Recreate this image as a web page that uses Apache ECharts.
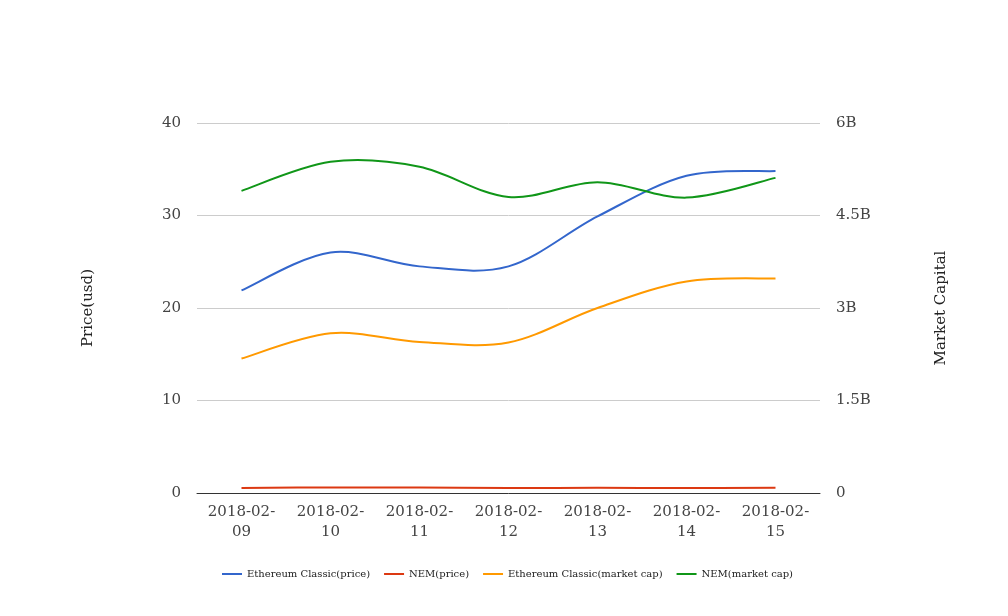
<!DOCTYPE html>
<html>
<head>
<meta charset="utf-8">
<script src="https://cdn.jsdelivr.net/npm/echarts@6/dist/echarts.min.js"></script>
<style>html,body{margin:0;padding:0;background:#fff;}#c{width:1008px;height:616px;}</style>
</head>
<body>
<div id="c"></div>
<script>
var categories = ['2018-02-09','2018-02-10','2018-02-11','2018-02-12','2018-02-13','2018-02-14','2018-02-15'];
var etcPrice = [21.9, 26.0, 24.5, 24.5, 29.9, 34.3, 34.8];
var nemPrice = [0.545, 0.597, 0.588, 0.533, 0.560, 0.533, 0.568];
var etcCap = [2.18e9, 2.59e9, 2.45e9, 2.44e9, 3.0e9, 3.43e9, 3.48e9];
var nemCap = [4.90e9, 5.37e9, 5.29e9, 4.80e9, 5.04e9, 4.79e9, 5.11e9];
var leftTicks = {min: 0, max: 40, interval: 10};
var rightTicks = {min: 0, max: 6e9, interval: 1.5e9};

var font = 'DejaVu Serif';
var chart = echarts.init(document.getElementById('c'));
function capFmt(v){ return v === 0 ? '0' : (v/1e9) + 'B'; }

// smooth curve (cardinal spline) drawn through points mapped by the axes
function mk(name, values, color, axis){
  return {
    name: name, type: 'custom', yAxisIndex: axis,
    data: values.map(function(v, i){ return [i, v]; }),
    encode: {x: 0, y: 1},
    itemStyle: {color: color},
    renderItem: function(params, api){
      if (params.dataIndex !== 0) return null;
      var pts = values.map(function(v, i){ return api.coord([i, v]); });
      var n = pts.length, t = 1/6;
      var d = 'M' + pts[0][0] + ' ' + pts[0][1];
      for (var i = 0; i < n - 1; i++) {
        var p0 = pts[Math.max(i - 1, 0)], p1 = pts[i], p2 = pts[i + 1], p3 = pts[Math.min(i + 2, n - 1)];
        var c1x = p1[0] + (p2[0] - p0[0]) * t, c1y = p1[1] + (p2[1] - p0[1]) * t;
        var c2x = p2[0] - (p3[0] - p1[0]) * t, c2y = p2[1] - (p3[1] - p1[1]) * t;
        d += ' C' + c1x + ' ' + c1y + ' ' + c2x + ' ' + c2y + ' ' + p2[0] + ' ' + p2[1];
      }
      return {type: 'path', shape: {pathData: d},
        style: {stroke: color, fill: null, lineWidth: 2}};
    }
  };
}
chart.setOption({
  animation: false,
  textStyle: {fontFamily: font},
  grid: {left: 197, right: 188, top: 123, bottom: 123},
  legend: {
    bottom: 32, left: 217, itemGap: 14, itemWidth: 20, itemHeight: 2, icon: 'rect',
    textStyle: {fontFamily: font, fontSize: 10, color: '#222'},
    data: ['Ethereum Classic(price)', 'NEM(price)', 'Ethereum Classic(market cap)', 'NEM(market cap)']
  },
  xAxis: {
    type: 'category', data: categories, boundaryGap: true,
    axisLine: {lineStyle: {color: '#333', width: 1}}, axisTick: {show: false},
    axisLabel: {fontFamily: font, fontSize: 15, color: '#444', margin: 9, lineHeight: 20, interval: 0,
      formatter: function(v){ return v.slice(0, 8) + '\n' + v.slice(8); }}
  },
  yAxis: [{
    type: 'value', min: leftTicks.min, max: leftTicks.max, interval: leftTicks.interval,
    name: 'Price(usd)', nameLocation: 'middle', nameGap: 101, nameRotate: 90,
    nameTextStyle: {fontFamily: font, fontSize: 15, color: '#222'},
    axisLine: {show: false}, axisTick: {show: false},
    axisLabel: {fontFamily: font, fontSize: 15, color: '#444', margin: 16},
    splitLine: {lineStyle: {color: '#ccc', width: 1}}
  }, {
    type: 'value', min: rightTicks.min, max: rightTicks.max, interval: rightTicks.interval,
    name: 'Market Capital', nameLocation: 'middle', nameGap: 114, nameRotate: 90,
    nameTextStyle: {fontFamily: font, fontSize: 15, color: '#222'},
    axisLine: {show: false}, axisTick: {show: false},
    axisLabel: {fontFamily: font, fontSize: 15, color: '#444', margin: 16, formatter: capFmt},
    splitLine: {show: false}
  }],
  series: [
    mk('Ethereum Classic(price)', etcPrice, '#3366CC', 0),
    mk('NEM(price)', nemPrice, '#DC3912', 0),
    mk('Ethereum Classic(market cap)', etcCap, '#FF9900', 1),
    mk('NEM(market cap)', nemCap, '#109618', 1)
  ]
});
</script>
</body>
</html>
